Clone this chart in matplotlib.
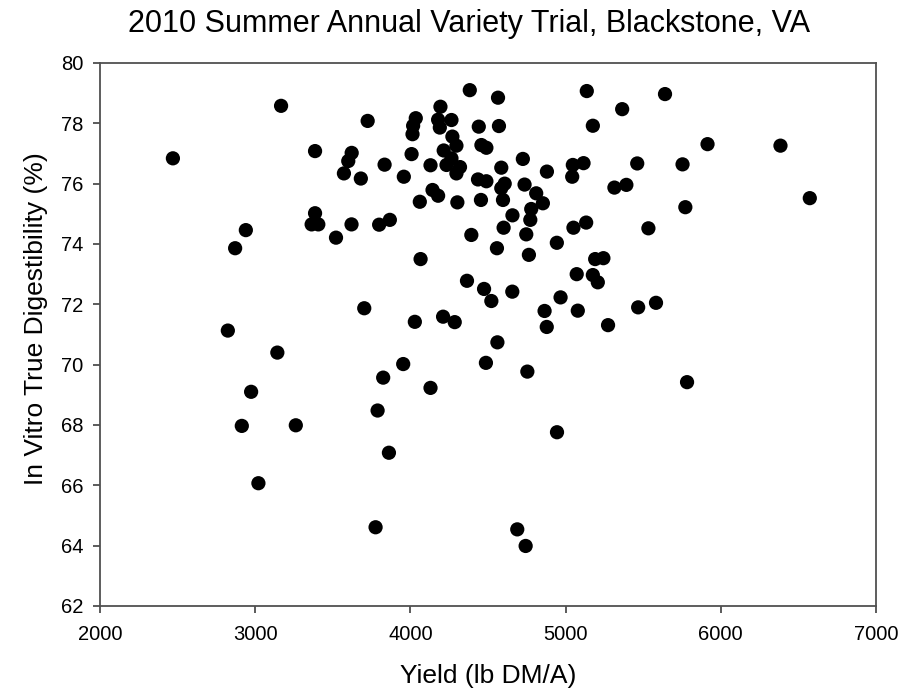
import matplotlib
matplotlib.use('Agg')
import matplotlib.pyplot as plt

# Yield (lb DM/A) and IVTD (%)
yield_lb = [
    2470, 3167, 2940, 2871, 2824, 3143, 2974, 2914, 3262, 3021,
    3386, 3386, 3364, 3407, 3521, 3572, 3600, 3622, 3621, 3681,
    3725, 3703, 3834, 3799, 3868, 3958, 3825, 3954, 3789, 3862,
    3776, 4008, 4014, 4018, 4035, 4029, 4061, 4066, 4130, 4130,
    4143, 4179, 4194, 4179, 4265, 4190, 4271, 4297, 4215, 4265,
    4233, 4320, 4297, 4303, 4211, 4286, 4383, 4365, 4393, 4441,
    4458, 4490, 4436, 4490, 4455, 4475, 4522, 4487, 4565, 4571,
    4586, 4608, 4586, 4597, 4658, 4601, 4558, 4561, 4657, 4689,
    4743, 4725, 4736, 4811, 4854, 4779, 4773, 4747, 4764, 4754,
    4880, 4865, 4879, 4944, 4968, 4945, 5047, 5116, 5043, 5051,
    5133, 5072, 5079, 5137, 5176, 5191, 5244, 5176, 5208, 5274,
    5315, 5392, 5365, 5462, 5468, 5534, 5583, 5641, 5754, 5772,
    5783, 5915, 6385, 6574,
]
ivtd = [
    76.84, 78.58, 74.46, 73.86, 71.13, 70.40, 69.10, 67.97, 67.99, 66.07,
    77.08, 75.02, 74.65, 74.65, 74.21, 76.34, 76.75, 77.02, 74.65, 76.17,
    78.08, 71.87, 76.63, 74.64, 74.80, 76.23, 69.57, 70.02, 68.48, 67.08,
    64.61, 76.98, 77.64, 77.92, 78.17, 71.42, 75.40, 73.50, 69.23, 76.61,
    75.79, 75.60, 78.55, 78.12, 78.11, 77.86, 77.56, 77.26, 77.10, 76.84,
    76.62, 76.55, 76.34, 75.38, 71.59, 71.41, 79.10, 72.78, 74.30, 77.89,
    77.28, 77.19, 76.14, 76.08, 75.46, 72.51, 72.11, 70.06, 78.85, 77.91,
    76.53, 76.00, 75.85, 75.46, 74.95, 74.54, 73.86, 70.74, 72.42, 64.54,
    63.99, 76.82, 75.97, 75.68, 75.35, 75.16, 74.80, 74.32, 73.64, 69.77,
    76.40, 71.78, 71.25, 74.04, 72.23, 67.76, 76.62, 76.68, 76.23, 74.54,
    74.71, 73.00, 71.79, 79.07, 77.92, 73.50, 73.53, 72.97, 72.73, 71.31,
    75.87, 75.96, 78.47, 76.67, 71.90, 74.52, 72.05, 78.97, 76.64, 75.22,
    69.42, 77.31, 77.26, 75.52,
]

x_ticks = [2000, 3000, 4000, 5000, 6000, 7000]
y_ticks = [62, 64, 66, 68, 70, 72, 74, 76, 78, 80]

plt.rcParams['font.family'] = ['Liberation Sans', 'DejaVu Sans']

fig = plt.figure(figsize=(9.03, 7.0), dpi=100)
ax = fig.add_axes([0.1107, 0.1343, 0.8593, 0.7757])

ax.scatter(yield_lb, ivtd, s=105, c='black', edgecolors='none', zorder=3)

ax.set_xlim(2000, 7000)
ax.set_ylim(62, 80)
ax.set_xticks(x_ticks)
ax.set_yticks(y_ticks)
ax.tick_params(direction='out', length=5, width=1.2, color='#404040',
               labelsize=14.5, pad=7)
ax.tick_params(axis='x', pad=9)
for sp in ax.spines.values():
    sp.set_color('#505050')
    sp.set_linewidth(1.3)

ax.set_title('2010 Summer Annual Variety Trial, Blackstone, VA',
             fontsize=22, pad=22, x=0.4755)
ax.set_xlabel('Yield (lb DM/A)', fontsize=19, labelpad=14)
ax.set_ylabel('In Vitro True Digestibility (%)', fontsize=19)
ax.yaxis.set_label_coords(-0.067, 0.53)

fig.savefig('out.png', dpi=100)
